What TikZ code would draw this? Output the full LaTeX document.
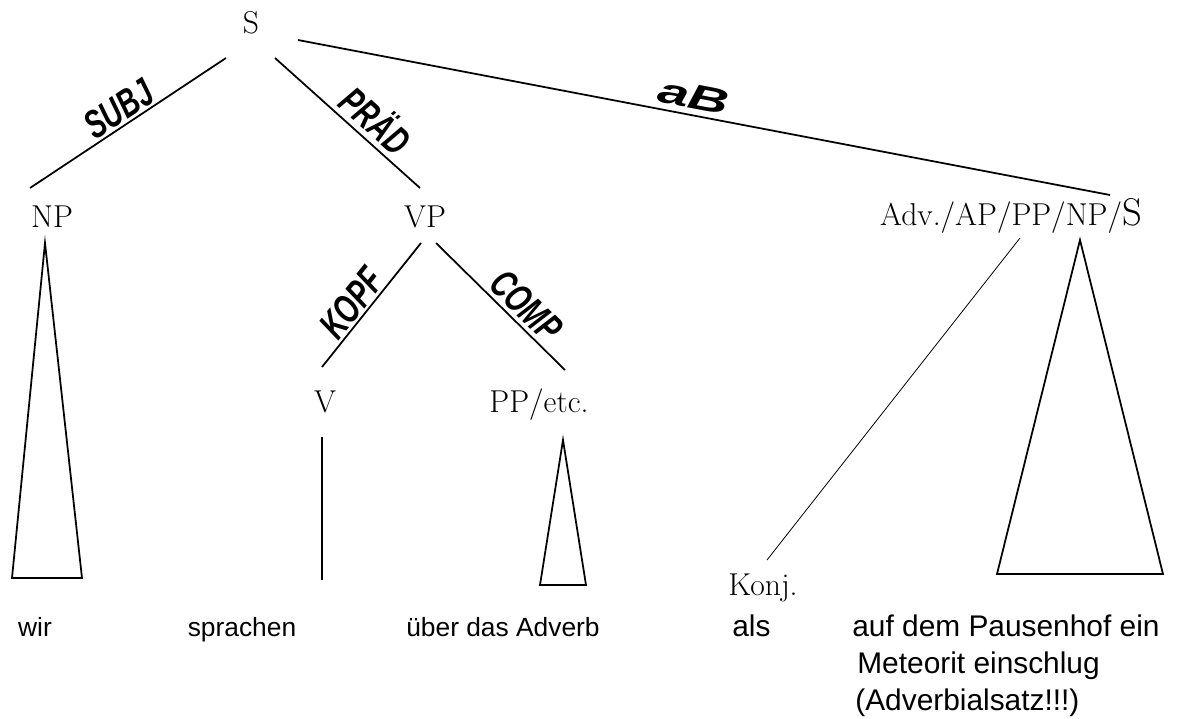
\documentclass[tikz,border=0pt]{standalone}
\usepackage{fontspec}
\newfontfamily\arial{Liberation Sans}
\begin{document}
\begin{tikzpicture}[x=0.02cm,y=-0.02cm,
  cat/.style={inner sep=0pt, anchor=base, font=\fontsize{18}{20}\selectfont},
  word/.style={inner sep=0pt, anchor=base, font=\arial\fontsize{15}{21}\selectfont},
  rword/.style={inner sep=0pt, anchor=base west, font=\arial\fontsize{17}{21}\selectfont},
  branch/.style={line width=1pt},
  thin branch/.style={line width=0.45pt},
  tri/.style={line width=1pt, line join=miter},
  fn/.style={sloped, above, font=\arial\bfseries\itshape\fontsize{22.5}{22.5}\selectfont}]
\useasboundingbox (0,0) rectangle (1197,718);

% category nodes
\node[cat] (S) at (251,33) {S};
\node[cat] (NP) at (52,227) {NP};
\node[cat] (VP) at (425,227) {VP};
\node[cat] (ADV) at (1011,225) {Adv./AP/PP/NP/{\fontsize{22}{22}\selectfont S}};
\node[cat] (V) at (325,412) {V};
\node[cat] (PP) at (539,412) {PP/etc.};
\node[cat] (KONJ) at (763,595) {Konj.};

% words
\node[word] (w1) at (35,636) {wir};
\node[word] (w2) at (242,636) {sprachen};
\node[word] (w3) at (503,636) {über das Adverb};
\node[rword] (w4) at (732,636) {als};
\node[rword] (w5) at (852,636) {auf dem Pausenhof ein};
\node[rword] (w6) at (857,673) {Meteorit einschlug};
\node[rword] (w7) at (855,710) {(Adverbialsatz!!!)};

% connector end points
\coordinate (S-l) at (226,58);
\coordinate (S-r) at (275,58);
\coordinate (S-e) at (298,40);
\coordinate (NP-t) at (30,188);
\coordinate (VP-t) at (420,188);
\coordinate (ADV-t) at (1110,195);
\coordinate (VP-l) at (421,243);
\coordinate (VP-r) at (436,243);
\coordinate (V-t) at (322,367);
\coordinate (PP-t) at (565,370);
\coordinate (V-b) at (322,437);
\coordinate (w2-t) at (322,580);
\coordinate (ADV-b) at (1020,238);
\coordinate (KONJ-t) at (767,560);

% branches with function labels
\draw[branch] (S-l) -- node[fn, pos=0.5, inner sep=1pt] {\scalebox{0.7}[1]{SUBJ}} (NP-t);
\draw[branch] (S-r) -- node[fn, pos=0.6, inner sep=3pt] {\scalebox{0.7}[1]{PRÄD}} (VP-t);
\draw[branch] (S-e) -- node[fn, pos=0.483, inner sep=3pt] {\fontsize{20}{20}\selectfont\scalebox{1.6}[1]{aB}} (ADV-t);
\draw[branch] (VP-l) -- node[fn, pos=0.57, inner sep=1pt] {\scalebox{0.7}[1]{KOPF}} (V-t);
\draw[branch] (VP-r) -- node[fn, pos=0.6, inner sep=2pt] {\scalebox{0.7}[1]{COMP}} (PP-t);
\draw[branch] (V-b) -- (w2-t);
\draw[thin branch] (ADV-b) -- (KONJ-t);

% triangles
\draw[tri] (45,243) -- (12,578) -- (82,578) -- cycle;
\draw[tri] (563,440) -- (540,585) -- (586,585) -- cycle;
\draw[tri] (1080,240) -- (997,574) -- (1163,574) -- cycle;
\end{tikzpicture}
\end{document}
